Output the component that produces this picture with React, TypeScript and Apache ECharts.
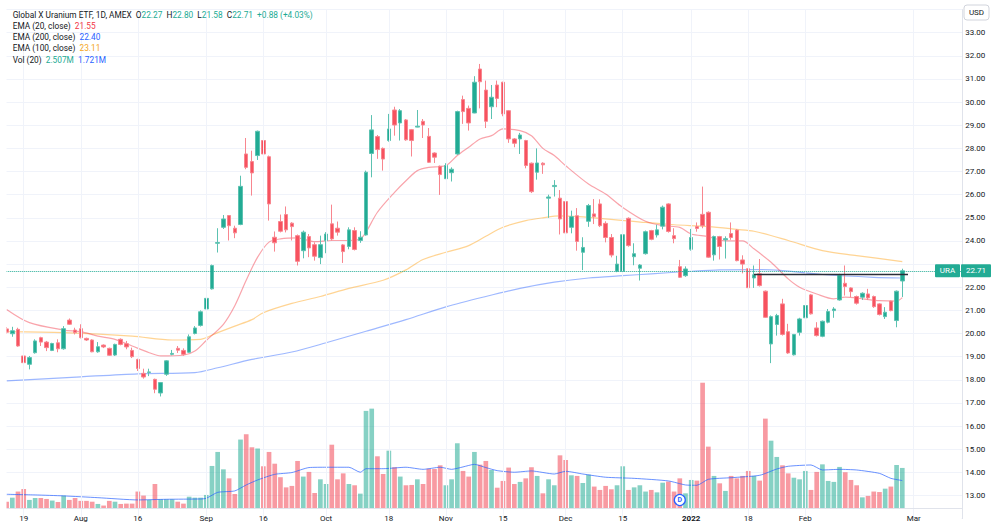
import React, { useEffect, useRef } from "react";
import * as echarts from "echarts";

// ---------- categories (trading days) ----------
const jul21 = [14, 15, 16, 19, 20, 21, 22, 23, 26, 27, 28, 29, 30];
const aug21 = [2, 3, 4, 5, 6, 9, 10, 11, 12, 13, 16, 17, 18, 19, 20, 23, 24, 25, 26, 27, 30, 31];
const sep21 = [1, 2, 3, 7, 8, 9, 10, 13, 14, 15, 16, 17, 20, 21, 22, 23, 24, 27, 28, 29, 30];
const oct21 = [1, 4, 5, 6, 7, 8, 11, 12, 13, 14, 15, 18, 19, 20, 21, 22, 25, 26, 27, 28, 29];
const nov21 = [1, 2, 3, 4, 5, 8, 9, 10, 11, 12, 15, 16, 17, 18, 19, 22, 23, 24, 26, 29, 30];
const dec21 = [1, 2, 3, 6, 7, 8, 9, 10, 13, 14, 15, 16, 17, 20, 21, 22, 23, 27, 28, 29, 30, 31];
const jan22 = [3, 4, 5, 6, 7, 10, 11, 12, 13, 14, 18, 19, 20, 21, 24, 25, 26, 27, 28, 31];
const feb22 = [1, 2, 3, 4, 7, 8, 9, 10, 11, 14, 15, 16, 17, 18, 22, 23, 24, 25, 28];
const mar22 = [1, 2, 3, 4, 7, 8, 9, 10, 11];

// ---------- OHLC + volume (millions) ----------
const opens = [
  20.2, 19.99, 20.18, 19.03, 18.67, 19.17, 19.82, 19.63, 19.27, 19.6,
  19.34, 20.58, 20.15, 20.21, 19.79, 19.72, 19.21, 19.5, 19.36, 19.07,
  19.75, 19.56, 19.27, 18.88, 18.28, 18.32, 18.02, 17.43, 18.24, 19.1,
  19.36, 19.27, 19.19, 20.0, 20.35, 21.06, 21.93, 23.9, 24.59, 25.1,
  24.55, 24.71, 27.76, 27.43, 27.69, 28.34, 27.64, 24.16, 24.84, 25.14,
  24.77, 24.23, 23.58, 24.19, 23.84, 23.28, 24.02, 24.74, 24.55, 23.83,
  23.76, 24.45, 24.02, 24.26, 27.78, 28.51, 28.0, 28.34, 29.66, 29.1,
  29.23, 28.81, 28.92, 29.17, 28.52, 27.8, 27.23, 26.69, 26.95, 27.76,
  30.11, 29.73, 29.53, 31.43, 30.52, 29.8, 30.74, 30.86, 29.63, 28.41,
  28.41, 28.34, 27.36, 26.97, 27.36, 25.85, 26.35, 25.85, 25.7, 24.59,
  25.09, 23.51, 24.85, 25.17, 25.6, 24.76, 24.15, 22.69, 22.69, 24.98,
  23.32, 22.82, 23.45, 24.45, 24.26, 24.64, 25.6, 24.23, 22.89, 22.5,
  23.64, 24.62, 25.15, 25.24, 23.4, 24.19, 24.05, 24.32, 24.47, 23.18,
  22.8, 22.4, 22.58, 21.83, 19.55, 20.39, 21.28, 20.08, 19.08, 20.05,
  20.68, 21.67, 20.24, 19.88, 20.49, 20.99, 21.45, 22.17, 21.97, 21.6,
  21.57, 21.71, 21.6, 21.28, 20.73, 21.4, 20.56, 22.27,
];
const closes = [
  20.06, 20.12, 19.46, 18.74, 18.96, 19.68, 19.63, 19.39, 19.57, 19.34,
  20.21, 20.4, 20.04, 19.82, 19.72, 19.21, 19.43, 19.42, 19.06, 19.53,
  19.53, 19.42, 19.0, 18.49, 18.12, 18.34, 17.59, 17.88, 18.82, 19.14,
  19.28, 19.1, 19.86, 20.24, 20.94, 21.52, 22.94, 23.93, 24.95, 24.66,
  24.35, 26.36, 27.18, 26.94, 28.74, 27.76, 25.6, 23.92, 24.42, 24.48,
  24.62, 23.12, 24.38, 23.7, 23.34, 23.84, 24.3, 24.09, 24.38, 23.54,
  24.48, 23.63, 24.16, 26.97, 28.8, 27.95, 27.54, 28.84, 29.01, 29.63,
  28.37, 28.34, 28.96, 29.01, 27.4, 27.62, 26.87, 27.26, 27.1, 29.59,
  29.59, 29.1, 30.86, 30.88, 29.17, 30.21, 30.16, 29.49, 28.41, 28.22,
  28.58, 27.26, 26.13, 27.37, 27.29, 25.9, 26.4, 24.95, 24.35, 25.05,
  23.98, 23.72, 25.53, 25.05, 24.66, 24.15, 23.39, 23.0, 24.27, 23.8,
  23.45, 22.96, 24.4, 24.07, 24.48, 25.46, 24.41, 24.1, 22.43, 22.79,
  24.15, 24.54, 24.66, 23.3, 24.19, 23.76, 24.1, 24.15, 23.15, 23.0,
  21.98, 22.54, 22.07, 20.7, 20.73, 20.78, 19.96, 19.16, 19.96, 20.63,
  21.21, 20.85, 19.91, 20.53, 20.95, 21.06, 22.53, 22.03, 21.81, 21.31,
  21.74, 21.54, 21.16, 20.82, 20.92, 20.99, 21.83, 22.71,
];
const lows = [
  20.0, 19.86, 19.43, 18.6, 18.45, 19.13, 19.46, 19.24, 19.24, 19.19,
  19.3, 20.37, 19.96, 19.79, 19.68, 19.19, 19.17, 19.37, 19.03, 19.03,
  19.49, 19.32, 18.94, 18.38, 18.05, 18.16, 17.42, 17.28, 18.17, 19.06,
  19.16, 19.04, 19.16, 19.96, 20.3, 20.99, 21.9, 23.5, 24.52, 24.02,
  24.12, 24.68, 27.1, 25.96, 27.5, 26.95, 24.88, 23.54, 24.37, 24.37,
  24.02, 22.94, 23.25, 23.3, 23.15, 23.0, 23.47, 24.02, 24.23, 23.05,
  23.64, 23.59, 23.92, 24.23, 26.75, 27.55, 27.04, 28.29, 28.55, 28.34,
  28.33, 27.65, 28.91, 28.45, 27.37, 27.37, 25.99, 26.69, 26.57, 27.72,
  29.06, 28.77, 29.52, 29.73, 28.88, 29.27, 29.78, 29.39, 28.24, 28.05,
  27.76, 27.14, 26.07, 26.65, 26.9, 25.0, 25.92, 24.28, 24.3, 24.33,
  23.58, 22.74, 24.61, 24.73, 24.6, 23.94, 23.29, 22.65, 22.45, 23.75,
  22.95, 22.29, 23.41, 24.03, 24.15, 24.5, 24.36, 23.9, 22.4, 22.45,
  23.58, 24.4, 24.55, 23.27, 23.15, 23.2, 23.24, 24.05, 23.12, 22.6,
  21.95, 21.97, 22.03, 20.68, 18.72, 19.91, 19.91, 19.12, 19.05, 19.91,
  20.3, 20.82, 19.87, 19.84, 20.44, 20.68, 21.42, 21.64, 21.57, 21.25,
  21.45, 21.45, 21.11, 20.78, 20.63, 20.96, 20.27, 21.58,
];
const highs = [
  20.28, 20.29, 20.25, 19.1, 19.03, 19.75, 19.86, 19.68, 19.6, 19.75,
  20.32, 20.65, 20.25, 20.4, 19.82, 19.75, 19.63, 19.53, 19.39, 19.56,
  19.79, 19.68, 19.39, 18.91, 18.48, 18.48, 18.05, 17.9, 18.85, 19.29,
  19.46, 19.36, 19.96, 20.32, 21.0, 21.6, 22.98, 24.55, 25.12, 25.12,
  24.66, 26.82, 28.45, 27.9, 28.77, 28.41, 27.69, 24.41, 25.14, 25.49,
  24.81, 24.28, 24.45, 24.3, 23.94, 24.23, 24.38, 25.57, 24.84, 23.87,
  24.59, 24.59, 24.42, 27.04, 29.44, 28.58, 28.04, 29.49, 29.8, 29.7,
  29.27, 28.84, 29.66, 29.27, 28.88, 27.83, 27.26, 27.36, 27.18, 29.63,
  30.28, 29.85, 31.12, 31.65, 30.93, 30.74, 30.93, 30.88, 29.66, 28.45,
  28.67, 28.37, 27.39, 28.0, 27.4, 26.0, 26.63, 26.2, 25.8, 25.31,
  25.42, 24.16, 25.6, 25.81, 25.8, 24.85, 24.3, 23.36, 24.3, 25.02,
  23.9, 23.0, 24.45, 24.48, 24.7, 25.53, 25.63, 24.55, 23.18, 22.9,
  24.52, 24.8, 26.35, 25.28, 24.23, 24.22, 24.2, 24.8, 24.51, 23.38,
  22.9, 22.94, 23.22, 21.86, 20.78, 20.85, 21.5, 20.42, 19.98, 20.68,
  21.25, 21.71, 20.49, 20.56, 21.06, 21.14, 22.58, 22.94, 22.0, 21.64,
  21.78, 21.93, 21.64, 21.31, 21.14, 21.42, 21.86, 22.8,
];
const volumes = [
  0.41, 0.66, 1.04, 1.2, 0.52, 0.64, 0.64, 0.58, 0.48, 0.39,
  0.79, 0.52, 0.64, 0.46, 0.46, 0.41, 0.27, 0.17, 0.46, 0.41,
  0.27, 0.29, 0.29, 1.04, 0.79, 0.52, 1.51, 0.56, 0.56, 0.56,
  0.41, 0.29, 0.72, 0.66, 0.66, 0.83, 2.63, 3.5, 2.42, 1.86,
  0.89, 4.27, 4.6, 3.79, 3.71, 2.61, 3.5, 2.77, 1.93, 1.3,
  1.39, 2.94, 1.97, 2.26, 0.95, 1.8, 1.51, 3.95, 1.8, 2.17,
  1.51, 1.43, 0.91, 6.05, 6.19, 3.23, 2.13, 3.58, 2.55, 1.97,
  1.43, 1.45, 1.8, 1.51, 2.46, 2.44, 2.67, 1.43, 1.8, 4.04,
  2.32, 1.97, 3.5, 2.71, 2.94, 2.38, 1.28, 1.7, 2.53, 1.51,
  1.64, 1.86, 2.55, 2.01, 0.93, 1.8, 1.43, 3.29, 3.0, 2.05,
  2.01, 1.57, 2.09, 1.35, 1.14, 1.39, 1.18, 1.43, 2.61, 1.14,
  1.3, 1.43, 1.04, 1.14, 0.99, 1.59, 1.66, 1.04, 1.86, 0.93,
  1.76, 1.72, 7.8, 3.83, 2.01, 1.55, 1.08, 2.01, 1.86, 2.01,
  2.32, 2.01, 1.72, 5.57, 4.2, 3.19, 2.67, 2.17, 1.9, 1.8,
  2.32, 1.14, 2.26, 2.73, 1.7, 1.64, 2.57, 2.24, 1.76, 1.43,
  0.68, 0.77, 1.04, 1.01, 1.22, 1.35, 2.69, 2.507,
];

// ---------- indicators: [day index, value] ----------
const ema20 = [
  [0, 21.04], [4, 20.47], [10, 20.15], [13, 20.08], [16, 19.89], [19, 19.75], [22, 19.46],
  [25, 19.17], [27, 19.03], [31, 19.06], [33, 19.24], [35, 19.7], [38, 20.4], [40, 21.2],
  [42, 22.3], [44, 23.3], [46, 23.95], [48, 24.09], [51, 24.13], [54, 23.97], [57, 24.02],
  [60, 24.02], [62, 24.09], [63, 24.38], [65, 25.24], [68, 26.1], [70, 26.6], [72, 27.04],
  [74, 27.18], [77, 27.26], [79, 27.69], [81, 28.05], [83, 28.41], [85, 28.55], [87, 28.84],
  [90, 28.77], [92, 28.55], [94, 28.0], [96, 27.69], [98, 27.25], [102, 26.46], [105, 26.03],
  [108, 25.45], [112, 24.85], [115, 24.66], [118, 24.59], [120, 24.3], [123, 24.19],
  [126, 24.0], [129, 24.0], [131, 23.66], [134, 23.08], [137, 22.36], [139, 22.0],
  [142, 21.71], [145, 21.5], [147, 21.57], [150, 21.5], [153, 21.42], [156, 21.4], [157, 21.55],
];
const ema100 = [
  [0, 20.08], [10, 20.04], [22, 19.89], [29, 19.72], [34, 19.75], [37, 20.04], [40, 20.32],
  [43, 20.6], [45, 20.9], [50, 21.3], [55, 21.6], [60, 21.95], [66, 22.3], [70, 22.75],
  [73, 23.2], [77, 23.51], [81, 23.8], [84, 24.2], [87, 24.59], [91, 24.88], [94, 25.0],
  [97, 25.08], [104, 24.98], [112, 24.8], [117, 24.7], [123, 24.62], [128, 24.5],
  [131, 24.42], [137, 24.02], [143, 23.58], [149, 23.37], [157, 23.11],
];
const ema200 = [
  [0, 17.95], [13, 18.13], [23, 18.26], [33, 18.31], [37, 18.52], [43, 18.88], [50, 19.2],
  [56, 19.6], [63, 20.1], [70, 20.6], [77, 21.15], [84, 21.6], [90, 21.95], [96, 22.22],
  [102, 22.4], [108, 22.5], [113, 22.58], [120, 22.69], [125, 22.75], [131, 22.76],
  [134, 22.75], [143, 22.55], [152, 22.43], [157, 22.4],
];
const volMa20 = [
  [0, 0.87], [5, 0.83], [10, 0.77], [16, 0.66], [23, 0.52], [28, 0.56], [34, 0.58], [35, 0.62],
  [37, 0.99], [40, 1.08], [42, 1.45], [44, 1.76], [47, 2.11], [50, 2.22], [53, 2.53],
  [56, 2.55], [60, 2.55], [62, 2.24], [63, 2.46], [66, 2.46], [70, 2.55], [73, 2.42],
  [76, 2.55], [78, 2.42], [80, 2.57], [82, 2.73], [84, 2.53], [86, 2.34], [89, 2.24],
  [92, 2.32], [96, 2.13], [98, 2.3], [101, 2.13], [105, 1.93], [110, 1.86], [116, 1.7],
  [119, 1.45], [121, 1.43], [123, 1.8], [127, 1.9], [132, 2.05], [135, 2.44], [137, 2.61],
  [141, 2.69], [143, 2.38], [146, 2.42], [149, 2.38], [153, 2.17], [155, 1.86], [157, 1.721],
];

// ---------- axis ticks / annotations ----------
const tickDates = [
  "2021-07-19", "2021-08-02", "2021-08-16", "2021-09-01", "2021-09-16", "2021-10-01",
  "2021-10-18", "2021-11-01", "2021-11-15", "2021-12-01", "2021-12-15", "2022-01-03",
  "2022-01-18", "2022-02-01", "2022-03-01",
];
const tickTexts = ["19", "Aug", "16", "Sep", "16", "Oct", "18", "Nov", "15", "Dec", "15", "2022", "18", "Feb", "Mar"];
const priceTicks = [13, 33]; // visible label range
const levelLine = { from: "2022-01-19", to: "2022-02-28", value: 22.58 };
const dividendDate = "2021-12-30";
const symbolName = "URA";

const pad = (n: number) => (n < 10 ? "0" + n : "" + n);
const monthBlocks: Array<[string, number[]]> = [
  ["2021-07", jul21], ["2021-08", aug21], ["2021-09", sep21], ["2021-10", oct21],
  ["2021-11", nov21], ["2021-12", dec21], ["2022-01", jan22], ["2022-02", feb22], ["2022-03", mar22],
];
const dates: string[] = monthBlocks.flatMap(([m, ds]) => ds.map((d) => `${m}-${pad(d)}`));

const GREEN = "#22ab94";
const RED = "#f7525f";
const FONT = "Roboto, 'Noto Sans', sans-serif";
const TEXT = "#131722";

const toPairs = (arr: number[][]) => arr.map(([i, v]) => [dates[i], v]);

function buildOption(): any {
  const n = closes.length;
  const last = n - 1;
  const tickSet = new Set(tickDates);
  const tickMap: Record<string, string> = {};
  tickDates.forEach((d, i) => (tickMap[d] = tickTexts[i]));

  const candleData = opens.map((o, i) => [o, closes[i], lows[i], highs[i]]);
  const volData = volumes.map((v, i) => ({
    value: v,
    itemStyle: { color: closes[i] >= opens[i] ? "rgba(34,171,148,0.55)" : "rgba(242,54,69,0.5)" },
  }));

  const gridLeft = 3.75;
  const step = 5.705;
  const gridRight = 1000 - gridLeft - dates.length * step;

  const chg = closes[last] - closes[last - 1];
  const pct = (chg / closes[last - 1]) * 100;

  const legendRich = {
    t: { fontSize: 8.3, fontFamily: FONT, fill: TEXT, color: TEXT },
    g: { fontSize: 8.3, fontFamily: FONT, fill: GREEN, color: GREEN },
    r: { fontSize: 8.3, fontFamily: FONT, fill: "#f23645", color: "#f23645" },
    b: { fontSize: 8.3, fontFamily: FONT, fill: "#2962ff", color: "#2962ff" },
    o: { fontSize: 8.3, fontFamily: FONT, fill: "#f5a623", color: "#f5a623" },
  };
  const f2 = (v: number) => v.toFixed(2);
  const lastOf = (a: number[][]) => a[a.length - 1][1];
  const legendLines = [
    `{t|Global X Uranium ETF, 1D, AMEX}  {t|O}{g|${f2(opens[last])}}  {t|H}{g|${f2(highs[last])}}  {t|L}{g|${f2(lows[last])}}  {t|C}{g|${f2(closes[last])}}  {g|${chg >= 0 ? "+" : ""}${f2(chg)} (${chg >= 0 ? "+" : ""}${f2(pct)}%)}`,
    `{t|EMA (20, close)}  {r|${f2(lastOf(ema20))}}`,
    `{t|EMA (200, close)}  {b|${f2(lastOf(ema200))}}`,
    `{t|EMA (100, close)}  {o|${f2(lastOf(ema100))}}`,
    `{t|Vol (20)}  {g|${volumes[last].toFixed(3)}M}  {b|${lastOf(volMa20).toFixed(3)}M}`,
  ];
  const legendY = [15, 26, 37, 48.3, 59.6];
  const lastClose = closes[last];

  return {
    animation: false,
    backgroundColor: "#ffffff",
    textStyle: { fontFamily: FONT },
    grid: [
      { left: gridLeft, right: gridRight, top: 9.56, bottom: 12.36 },
      { left: gridLeft, right: gridRight, top: 347.3, bottom: 22.7 },
    ],
    xAxis: [
      { type: "category", gridIndex: 0, data: dates, boundaryGap: true, show: false },
      {
        type: "category",
        gridIndex: 1,
        data: dates,
        boundaryGap: true,
        z: 10,
        axisLine: { show: true, lineStyle: { color: "#e0e3eb", width: 1 } },
        axisTick: { show: false },
        splitLine: { show: false },
        axisLabel: {
          interval: (_i: number, v: string) => tickSet.has(v),
          formatter: (v: string) => (tickMap[v] === "2022" ? "{y|2022}" : tickMap[v] || ""),
          rich: { y: { fontWeight: "bold", fontSize: 8, color: TEXT, fontFamily: FONT } },
          fontSize: 8,
          color: TEXT,
          margin: 6,
          hideOverlap: false,
        },
      },
    ],
    yAxis: [
      {
        type: "value",
        gridIndex: 0,
        position: "right",
        min: 12,
        max: 34,
        interval: 1,
        axisLine: { show: true, lineStyle: { color: "#e0e3eb" } },
        axisTick: { show: false },
        splitLine: { show: true, lineStyle: { color: "#f0f3fa", width: 1 } },
        axisLabel: {
          fontSize: 8,
          color: TEXT,
          margin: 3,
          formatter: (v: number) =>
            v >= priceTicks[0] && v <= priceTicks[1] && Math.abs(v - lastClose) > 0.45 ? v.toFixed(2) : "",
        },
      },
      { type: "value", gridIndex: 1, min: 0, max: 10, show: false, splitLine: { show: false } },
    ],
    series: [
      {
        name: "Vol",
        type: "bar",
        xAxisIndex: 1,
        yAxisIndex: 1,
        data: volData,
        barWidth: "82%",
        z: 1,
        silent: true,
      },
      {
        name: "Vol MA",
        type: "line",
        xAxisIndex: 1,
        yAxisIndex: 1,
        data: toPairs(volMa20),
        symbol: "none",
        smooth: 0.2,
        lineStyle: { color: "rgba(41,98,255,0.7)", width: 1 },
        z: 2,
        silent: true,
      },
      {
        name: "EMA 200",
        type: "line",
        xAxisIndex: 0,
        yAxisIndex: 0,
        data: toPairs(ema200),
        symbol: "none",
        smooth: 0.3,
        lineStyle: { color: "rgba(41,98,255,0.45)", width: 1.2 },
        z: 2,
        silent: true,
        markLine: {
          silent: true,
          symbol: ["none", "none"],
          label: { show: false },
          lineStyle: { color: "#f0f3fa", type: "solid", width: 1 },
          data: tickDates.map((d) => ({ xAxis: d })),
        },
      },
      {
        name: "EMA 100",
        type: "line",
        xAxisIndex: 0,
        yAxisIndex: 0,
        data: toPairs(ema100),
        symbol: "none",
        smooth: 0.3,
        lineStyle: { color: "rgba(255,170,40,0.5)", width: 1.2 },
        z: 2,
        silent: true,
      },
      {
        name: "EMA 20",
        type: "line",
        xAxisIndex: 0,
        yAxisIndex: 0,
        data: toPairs(ema20),
        symbol: "none",
        smooth: 0.3,
        lineStyle: { color: "rgba(242,54,69,0.45)", width: 1.2 },
        z: 2,
        silent: true,
      },
      {
        name: symbolName,
        type: "candlestick",
        xAxisIndex: 0,
        yAxisIndex: 0,
        data: candleData,
        barWidth: "70%",
        z: 3,
        silent: true,
        itemStyle: {
          color: GREEN,
          color0: RED,
          borderColor: "#5cc2b1",
          borderColor0: "#f8868f",
          borderWidth: 1,
        },
        markLine: {
          silent: true,
          symbol: ["none", "none"],
          label: { show: false },
          data: [
            { yAxis: lastClose, lineStyle: { type: "dotted", color: GREEN, width: 1 } },
            [
              { coord: [levelLine.from, levelLine.value], lineStyle: { type: "solid", color: "#2a2e39", width: 1.3 } },
              { coord: [levelLine.to, levelLine.value], lineStyle: { type: "solid", color: "#2a2e39", width: 1.3 } },
            ],
          ],
        },
      },
    ],
    graphic: [
      { type: "rect", id: "bottomCover", z: 3, shape: { x: 0, y: 508.8, width: 961.5, height: 23 }, style: { fill: "#ffffff" } },
      { type: "rect", id: "leftCover", z: 50, shape: { x: 0, y: 0, width: 6.5, height: 531 }, style: { fill: "#ffffff" } },
      { type: "rect", id: "usdBox", z: 40, shape: { x: 964, y: 5, width: 25, height: 15, r: 3 }, style: { fill: "#ffffff", stroke: "#d1d4dc", lineWidth: 1 } },
      { type: "text", id: "usdText", z: 41, x: 976.5, y: 12.8, style: { text: "USD", fontSize: 8, fontFamily: FONT, fill: TEXT, align: "center", verticalAlign: "middle" } },
      ...legendLines.map((t, i) => ({
        type: "text",
        id: "legend" + i,
        z: 40,
        x: 12.7,
        y: legendY[i],
        style: { text: t, rich: legendRich, fontSize: 8.3, fontFamily: FONT, fill: TEXT, verticalAlign: "middle" },
      })),
    ],
  };
}

export default function App() {
  const ref = useRef<HTMLDivElement>(null);
  useEffect(() => {
    const el = ref.current;
    if (!el) return;
    const chart = echarts.init(el, null, { renderer: "svg" });
    chart.setOption(buildOption());
    const last = closes.length - 1;
    const yLast = chart.convertToPixel({ yAxisIndex: 0 }, closes[last]) as number;
    const xDiv = chart.convertToPixel({ xAxisIndex: 1 }, dividendDate) as number;
    chart.setOption({
      graphic: [
        { type: "rect", id: "symBox", z: 45, shape: { x: 935, y: yLast - 6.5, width: 25, height: 13, r: 1 }, style: { fill: GREEN } },
        { type: "text", id: "symText", z: 46, x: 947.5, y: yLast, style: { text: symbolName, fontSize: 8, fontFamily: FONT, fill: "#ffffff", align: "center", verticalAlign: "middle" } },
        { type: "rect", id: "priceBox", z: 45, shape: { x: 961, y: yLast - 6.5, width: 30, height: 13, r: 1 }, style: { fill: GREEN } },
        { type: "text", id: "priceText", z: 46, x: 976, y: yLast, style: { text: closes[last].toFixed(2), fontSize: 8, fontFamily: FONT, fill: "#ffffff", align: "center", verticalAlign: "middle" } },
        { type: "circle", id: "divCircle", z: 45, shape: { cx: xDiv, cy: 500, r: 5.5 }, style: { fill: "#ffffff", stroke: "#2962ff", lineWidth: 1.3 } },
        { type: "text", id: "divText", z: 46, x: xDiv, y: 500.3, style: { text: "D", fontSize: 7, fontWeight: "bold", fontFamily: FONT, fill: "#2962ff", align: "center", verticalAlign: "middle" } },
      ],
    });
    return () => chart.dispose();
  }, []);
  return (
    <div
      ref={ref}
      style={{ position: "fixed", left: 0, top: 0, width: 1000, height: 531, background: "#ffffff" }}
    />
  );
}
